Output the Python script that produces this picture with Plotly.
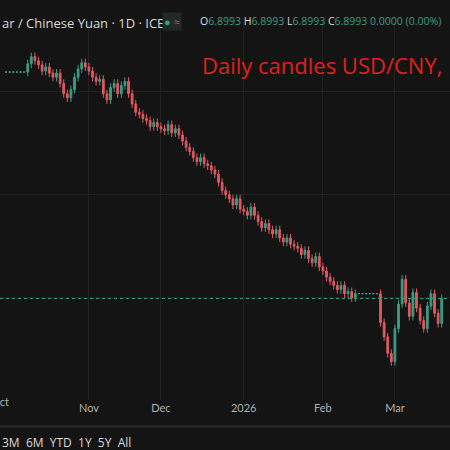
import pandas as pd
import plotly.graph_objects as go

# daily closes USD/CNY, Oct 1 2025 .. Mar 19 2026 (business days)
close_oct = [7.119, 7.119, 7.119, 7.119, 7.119, 7.119,
             7.127, 7.134, 7.130, 7.126, 7.120, 7.124, 7.118, 7.114, 7.118, 7.108,
             7.098, 7.094, 7.102, 7.114, 7.122, 7.128, 7.124]
close_nov = [7.120, 7.114, 7.110, 7.112, 7.098, 7.092, 7.104, 7.108, 7.098, 7.106,
             7.110, 7.098, 7.088, 7.080, 7.078, 7.074, 7.072, 7.066, 7.070, 7.066]
close_dec = [7.064, 7.062, 7.068, 7.060, 7.064, 7.058, 7.052, 7.046, 7.042, 7.036,
             7.032, 7.036, 7.030, 7.028, 7.024, 7.020, 7.012, 7.004, 7.000, 6.996,
             6.990, 6.996, 6.986]
close_jan = [6.984, 6.980, 6.988, 6.980, 6.974, 6.968, 6.972, 6.966, 6.962, 6.966,
             6.958, 6.954, 6.958, 6.952, 6.950, 6.948, 6.942, 6.946, 6.938, 6.934,
             6.940, 6.930]
close_feb = [6.926, 6.920, 6.916, 6.912, 6.908, 6.912, 6.904, 6.906, 6.900, 6.904,
             6.904, 6.904, 6.904, 6.904, 6.904, 6.904,
             6.876, 6.862, 6.846, 6.838]
close_mar = [6.870, 6.894, 6.918, 6.895, 6.882, 6.905, 6.890, 6.878, 6.870, 6.892,
             6.904, 6.885, 6.875, 6.899]
closes = close_oct + close_nov + close_dec + close_jan + close_feb + close_mar
opens = [7.119] + closes[:-1]
wick = 0.004
highs = [max(o, c) + (0 if o == c else wick) for o, c in zip(opens, closes)]
lows = [min(o, c) - (0 if o == c else wick) for o, c in zip(opens, closes)]
dates = pd.bdate_range("2025-10-01", periods=len(closes))
idx = list(range(len(closes)))

month_labels = ["Nov", "Dec", "2026", "Feb", "Mar"]
month_idx = [23, 43, 66, 88, 108]
last_price = 6.8993

bg = "#141414"
fig = go.Figure(go.Candlestick(
    x=idx, open=opens, high=highs, low=lows, close=closes,
    increasing=dict(line=dict(color="#3f9c83", width=1), fillcolor="#3f9c83"),
    decreasing=dict(line=dict(color="#de5a62", width=1), fillcolor="#de5a62"),
    whiskerwidth=0, showlegend=False,
))
fig.add_hline(y=last_price, line=dict(color="#3f9c83", width=1, dash="dot"))

fig.update_xaxes(range=[-1.7, 123.3], tickvals=month_idx, ticktext=month_labels,
                 showgrid=True, gridcolor="#222222", zeroline=False,
                 rangeslider_visible=False, ticks="",
                 tickfont=dict(color="#b0b0b0", size=11, family="Lato"))
fig.update_yaxes(range=[6.8008, 7.1676], showticklabels=False, showgrid=True,
                 gridcolor="#222222", dtick=0.1, zeroline=False)

fig.add_annotation(xref="paper", yref="paper", x=0, y=0, yshift=-10, xanchor="center",
                   text="Oct", showarrow=False,
                   font=dict(color="#b0b0b0", size=11, family="Lato"))
fig.add_annotation(xref="paper", yref="paper", x=0, y=1, yshift=10, xanchor="left",
                   text="ar / Chinese Yuan · 1D · ICE", showarrow=False,
                   font=dict(color="#d8d8d8", size=13, family="Open Sans"))
fig.add_annotation(xref="paper", yref="paper", x=0.36, y=1, yshift=10, xanchor="left",
                   text="<span style='color:#3f9c83'>●</span> <span style='color:#c0507a'>≈</span>",
                   showarrow=False, bgcolor="#1f2a27",
                   font=dict(color="#3f9c83", size=11))
fig.add_annotation(xref="paper", yref="paper", x=0.44, y=1, yshift=10, xanchor="left",
                   text="<span style='color:#ddd'>O</span>6.8993 <span style='color:#ddd'>H</span>6.8993 "
                        "<span style='color:#ddd'>L</span>6.8993 <span style='color:#ddd'>C</span>6.8993 "
                        "0.0000 (0.00%)",
                   showarrow=False, font=dict(color="#3f9c83", size=10.5, family="Open Sans"))
fig.add_annotation(xref="paper", yref="paper", x=0.445, y=0.93, xanchor="left",
                   text="Daily candles USD/CNY,", showarrow=False,
                   font=dict(color="#e0201e", size=22, family="Open Sans"))
fig.add_annotation(xref="paper", yref="paper", x=0, y=0, yshift=-32, xanchor="left",
                   yanchor="top", text="3M  6M  YTD  1Y  5Y  All", showarrow=False,
                   font=dict(color="#d8d8d8", size=12, family="Open Sans"))
fig.add_shape(type="line", xref="paper", yref="paper", x0=0, x1=1, y0=-0.07, y1=-0.07,
              line=dict(color="#2a2a2a", width=2))

fig.update_layout(width=450, height=450, paper_bgcolor=bg, plot_bgcolor=bg,
                  margin=dict(l=0, r=0, t=22, b=50))
fig.write_html("out.html", config={"displayModeBar": False},
               post_script="document.body.style.margin='0';document.body.style.overflow='hidden';")
